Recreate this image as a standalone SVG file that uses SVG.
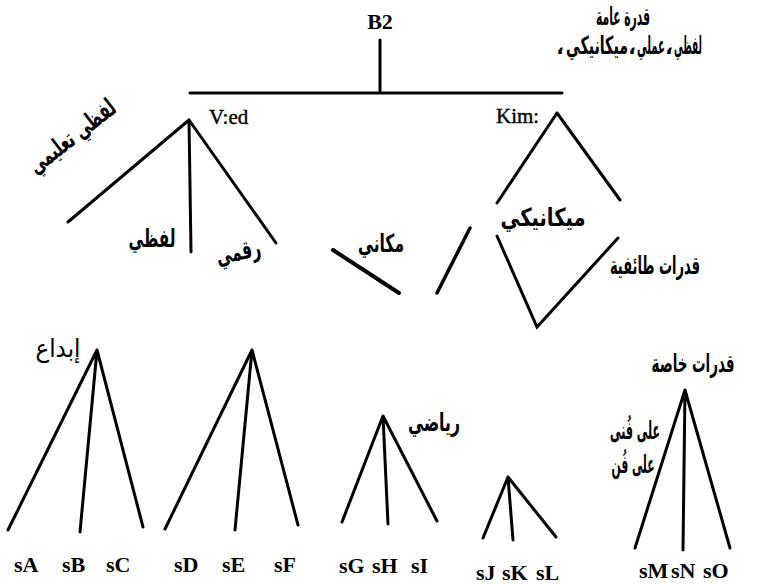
<svg xmlns="http://www.w3.org/2000/svg" width="762" height="584" viewBox="0 0 762 584">
<style>
.ln{stroke:#000;stroke-width:3;stroke-linecap:round;fill:none}
.lat{font-family:"Liberation Serif","Times New Roman",serif;font-weight:bold;font-size:22px;fill:#000}
.lbl{font-family:"Liberation Serif","Times New Roman",serif;font-size:21px;fill:#000;stroke:#000;stroke-width:0.4}
.ar{font-family:"DejaVu Sans","Noto Sans",sans-serif;font-size:25px;font-weight:bold;fill:#000;text-anchor:middle}
</style>
<rect width="762" height="584" fill="#fff"/>
<g id="connectors">
<path class="ln" d="M380 40V93M190 93H562"/>
<path class="ln" d="M189 120L68 222M189 120L191 252M189 120L276 243"/>
<path class="ln" d="M333 250L399 293" style="stroke-width:4"/>
<path class="ln" d="M437 293L470 228" style="stroke-width:3.5"/>
<path class="ln" d="M557 113L497 203M557 113L620 200M497 236L537 327L618 238"/>
<path class="ln" d="M97 350L8 530M97 350L80 532M97 350L143 527"/>
<path class="ln" d="M252 350L165 529M252 350L235 530M252 350L298 525"/>
<path class="ln" d="M383 416L342 522M383 416L388 524M383 416L437 521"/>
<path class="ln" d="M508 477L483 538M508 477L513 540M508 477L556 537"/>
<path class="ln" d="M685 390L635 548M685 390L683 550M685 390L730 548"/>
</g>
<g id="general">
<text class="lat" x="380" y="29" text-anchor="middle">B2</text>
<text class="ar" x="623" y="25" textLength="54" lengthAdjust="spacingAndGlyphs">قدرة عامة</text>
<text class="ar" x="560" y="54" style="font-size:20px">،</text>
<text class="ar" x="597" y="54" textLength="62" lengthAdjust="spacingAndGlyphs">ميكانيكي</text>
<text class="ar" x="632" y="54" style="font-size:20px">،</text>
<text class="ar" x="651" y="54" textLength="28" lengthAdjust="spacingAndGlyphs">عملي</text>
<text class="ar" x="669" y="54" style="font-size:20px">،</text>
<text class="ar" x="688" y="54" textLength="28" lengthAdjust="spacingAndGlyphs">لفظي</text>
</g>
<g id="ved">
<text class="lbl" x="209" y="124">V:ed</text>
<text class="ar" x="0" y="0" textLength="104" lengthAdjust="spacingAndGlyphs" transform="translate(77 143) rotate(-38)">لفظي تعليمي</text>
<text class="ar" x="152" y="247" textLength="47" lengthAdjust="spacingAndGlyphs">لفظي</text>
<text class="ar" x="0" y="0" textLength="45" lengthAdjust="spacingAndGlyphs" transform="translate(240 260) rotate(-12)">رقمي</text>
</g>
<g id="spatial">
<text class="ar" x="381" y="252" textLength="46" lengthAdjust="spacingAndGlyphs">مكاني</text>
</g>
<g id="kim">
<text class="lbl" x="496" y="123">Kim:</text>
<text class="ar" x="543" y="226" textLength="85" lengthAdjust="spacingAndGlyphs">ميكانيكي</text>
</g>
<g id="group-label">
<text class="ar" x="655" y="274" textLength="90" lengthAdjust="spacingAndGlyphs">قدرات طائفية</text>
</g>
<g id="tree1">
<text class="ar" x="58" y="357" textLength="45" lengthAdjust="spacingAndGlyphs" style="font-weight:normal">إبداع</text>
<text class="lat" x="14" y="572">sA</text>
<text class="lat" x="62" y="572">sB</text>
<text class="lat" x="106" y="572">sC</text>
</g>
<g id="tree2">
<text class="lat" x="174" y="572">sD</text>
<text class="lat" x="222" y="572">sE</text>
<text class="lat" x="274" y="572">sF</text>
</g>
<g id="tree3">
<text class="ar" x="434" y="431" textLength="52" lengthAdjust="spacingAndGlyphs">رياضي</text>
<text class="lat" x="339" y="573">sG</text>
<text class="lat" x="372" y="573">sH</text>
<text class="lat" x="411" y="573">sI</text>
</g>
<g id="tree4">
<text class="lat" x="476" y="580">sJ</text>
<text class="lat" x="502" y="580">sK</text>
<text class="lat" x="536" y="580">sL</text>
</g>
<g id="tree5">
<text class="ar" x="693" y="372" textLength="83" lengthAdjust="spacingAndGlyphs">قدرات خاصة</text>
<text class="ar" x="635" y="439" textLength="50" lengthAdjust="spacingAndGlyphs">على فُنى</text>
<text class="ar" x="633" y="473" textLength="43" lengthAdjust="spacingAndGlyphs">على فُن</text>
<text class="lat" x="639" y="578">sM</text>
<text class="lat" x="671" y="578">sN</text>
<text class="lat" x="703" y="578">sO</text>
</g>
</svg>
